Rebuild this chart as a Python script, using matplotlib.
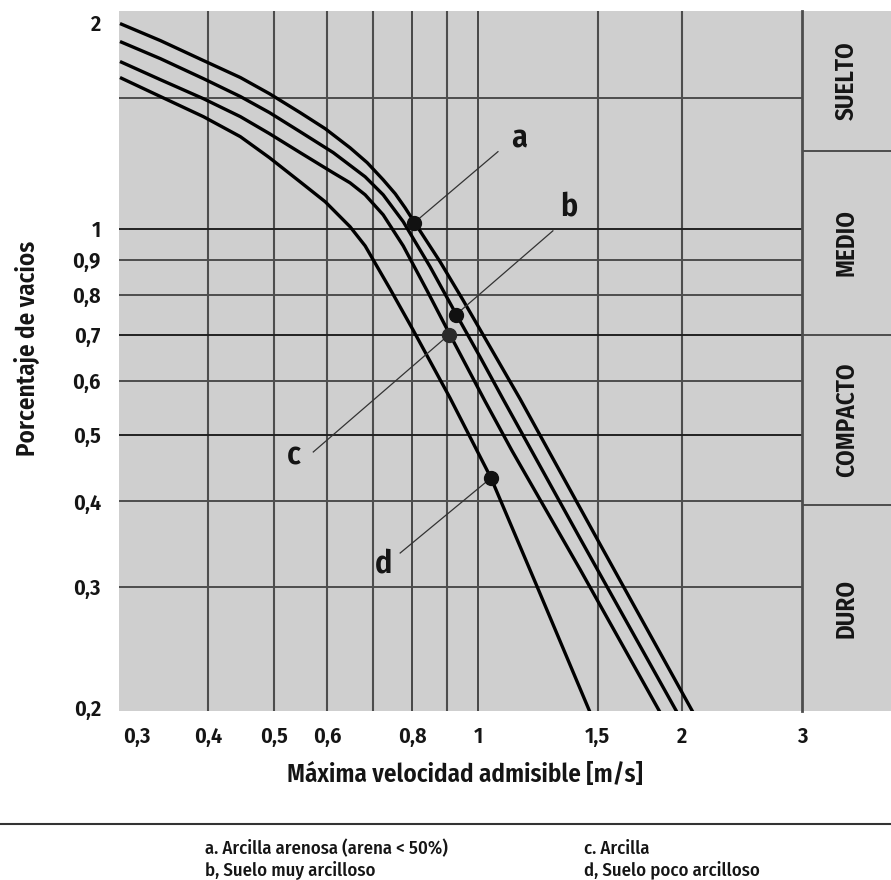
import matplotlib
matplotlib.use("Agg")
import matplotlib.pyplot as plt
from matplotlib.lines import Line2D
from matplotlib.transforms import ScaledTranslation

plt.rcParams['font.family'] = ['Fira Sans Condensed', 'DejaVu Sans']

# ---- data ----
a_x = [0.297, 0.3406, 0.394, 0.4467, 0.493, 0.547, 0.5957, 0.648, 0.6867, 0.725,
       0.7552, 0.781, 0.805, 0.8793, 0.950, 1.0415, 1.153, 1.512, 2.071]
a_y = [1.994, 1.883, 1.761, 1.663, 1.575, 1.478, 1.400, 1.313, 1.249, 1.179,
       1.125, 1.073, 1.024, 0.895, 0.7873, 0.6723, 0.5644, 0.3463, 0.197]

b_x = [0.297, 0.3406, 0.394, 0.4467, 0.493, 0.547, 0.612, 0.682, 0.725, 0.776,
       0.850, 0.928, 1.0068, 1.088, 1.4125, 1.962]
b_y = [1.877, 1.772, 1.657, 1.560, 1.478, 1.386, 1.292, 1.191, 1.121, 1.024,
       0.880, 0.751, 0.650, 0.5644, 0.3533, 0.197]

c_x = [0.297, 0.3406, 0.394, 0.4467, 0.493, 0.547, 0.612, 0.648, 0.682, 0.725,
       0.776, 0.8414, 0.906, 1.024, 1.122, 1.4125, 1.852]
c_y = [1.755, 1.651, 1.549, 1.458, 1.377, 1.292, 1.207, 1.167, 1.121, 1.048,
       0.944, 0.812, 0.705, 0.560, 0.474, 0.3184, 0.197]

d_x = [0.297, 0.3406, 0.394, 0.4467, 0.493, 0.547, 0.5957, 0.648, 0.682, 0.742,
       0.802, 0.9095, 1.045, 1.221, 1.461]
d_y = [1.663, 1.560, 1.458, 1.363, 1.270, 1.171, 1.095, 1.0068, 0.944, 0.817,
       0.712, 0.566, 0.4325, 0.3006, 0.197]

curve_names = ['a', 'b', 'c', 'd']
dot_x = [0.805, 0.928, 0.906, 1.045]
dot_y = [1.020, 0.749, 0.700, 0.4325]
leader_x = [1.070, 1.289, 0.572, 0.768]
leader_y = [1.296, 0.993, 0.472, 0.336]
label_x = [1.149, 1.361, 0.535, 0.725]
label_y = [1.354, 1.077, 0.466, 0.324]

x_ticks = [0.3, 0.4, 0.5, 0.6, 0.8, 1, 1.5, 2, 3]
x_tick_labels = ['0,3', '0,4', '0,5', '0,6', '0,8', '1', '1,5', '2', '3']
y_ticks = [0.2, 0.3, 0.4, 0.5, 0.6, 0.7, 0.8, 0.9, 1, 2]
y_tick_labels = ['0,2', '0,3', '0,4', '0,5', '0,6', '0,7', '0,8', '0,9', '1', '2']
x_grid = [0.4, 0.5, 0.6, 0.7, 0.8, 0.9, 1, 1.5, 2]
y_grid = [0.3, 0.4, 0.5, 0.6, 0.7, 0.8, 0.9, 1, 1.55]

zone_names = ['SUELTO', 'MEDIO', 'COMPACTO', 'DURO']
zone_bounds = [2.08, 1.3, 0.7, 0.395, 0.1975]

legend_texts = ['a. Arcilla arenosa (arena < 50%)', 'b, Suelo muy arcilloso',
                'c. Arcilla', 'd, Suelo poco arcilloso']

# ---- figure ----
W, H = 891, 880
fig = plt.figure(figsize=(W / 100, H / 100), dpi=100)
bg = '#cfcfcf'
gridc = '#4d4d4d'
txtc = '#151515'

ax = fig.add_axes([119 / W, 1 - 711 / H, (802 - 119) / W, 700 / H])
ax.set_xscale('log')
ax.set_yscale('log')
ax.set_xlim(0.296, 3.0)
ax.set_ylim(0.1975, 2.08)
ax.set_facecolor(bg)
for s in ax.spines.values():
    s.set_visible(False)

for gx in x_grid:
    dark = gx in (0.8, 1)
    ax.axvline(gx, color='#222222' if dark else gridc, lw=1.1 if dark else 1.5, zorder=1)
for gy in y_grid:
    dark = gy in (0.5, 0.7, 1)
    ax.axhline(gy, color='#222222' if dark else gridc, lw=1.4, zorder=1)

for xs, ys in [(a_x, a_y), (b_x, b_y), (c_x, c_y), (d_x, d_y)]:
    ax.plot(xs, ys, color='black', lw=2.4, solid_joinstyle='round',
            solid_capstyle='butt', zorder=3)

for i, n in enumerate(curve_names):
    ax.plot([dot_x[i], leader_x[i]], [dot_y[i], leader_y[i]], color='#333333',
            lw=0.9, zorder=4)
    ax.plot(dot_x[i], dot_y[i], 'o', color='#111111' if n != 'c' else '#2a2a2a',
            ms=10, zorder=5)
    ax.text(label_x[i], label_y[i], n, fontsize=23, fontweight=600, color=txtc,
            ha='center', va='center', zorder=6)

ax.set_xticks(x_ticks)
ax.set_xticklabels(x_tick_labels)
ax.set_yticks(y_ticks)
ax.set_yticklabels(y_tick_labels)
ax.minorticks_off()
ax.tick_params(axis='both', length=0, labelsize=16, labelcolor=txtc)
ax.tick_params(axis='x', pad=11)
ax.tick_params(axis='y', pad=13)
for lab in ax.get_xticklabels() + ax.get_yticklabels():
    lab.set_fontweight(600)
# the first x label sits a little inside the plot edge in the reference
first = ax.get_xticklabels()[0]
first.set_transform(first.get_transform() + ScaledTranslation(0.14, 0, fig.dpi_scale_trans))

# right panel with soil classes
pax = fig.add_axes([802 / W, 1 - 711 / H, (W - 802) / W, 700 / H], sharey=ax)
pax.set_facecolor(bg)
pax.set_xlim(0, 1)
for k in ('top', 'right', 'bottom'):
    pax.spines[k].set_visible(False)
pax.spines['left'].set_color(gridc)
pax.spines['left'].set_linewidth(2.0)
pax.tick_params(left=False, labelleft=False, bottom=False, labelbottom=False)
for b in zone_bounds[1:-1]:
    pax.axhline(b, color=gridc, lw=1.4)
for i, name in enumerate(zone_names):
    yc = (zone_bounds[i] * zone_bounds[i + 1]) ** 0.5
    pax.text(0.5, yc, name, rotation=90, ha='center', va='center',
             fontsize=18, fontweight=600, color=txtc)

# axis titles
fig.text(465 / W, 1 - 775 / H, 'Máxima velocidad admisible [m/s]', ha='center',
         va='center', fontsize=18, fontweight=600, color=txtc)
fig.text(27 / W, 1 - 348 / H, 'Porcentaje de vacios', rotation=90, ha='center',
         va='center', fontsize=18, fontweight=600, color=txtc)

# separator and legend
fig.add_artist(Line2D([0, 1], [1 - 824 / H, 1 - 824 / H], color='#333333', lw=1.5,
                      transform=fig.transFigure))
leg_pos = [(205, 849), (205, 870), (584, 849), (584, 870)]
for (px, py), t in zip(leg_pos, legend_texts):
    fig.text(px / W, 1 - py / H, t, ha='left', va='center', fontsize=13.5,
             fontweight=500, color=txtc)

fig.savefig('out.png', dpi=100, facecolor='white')
